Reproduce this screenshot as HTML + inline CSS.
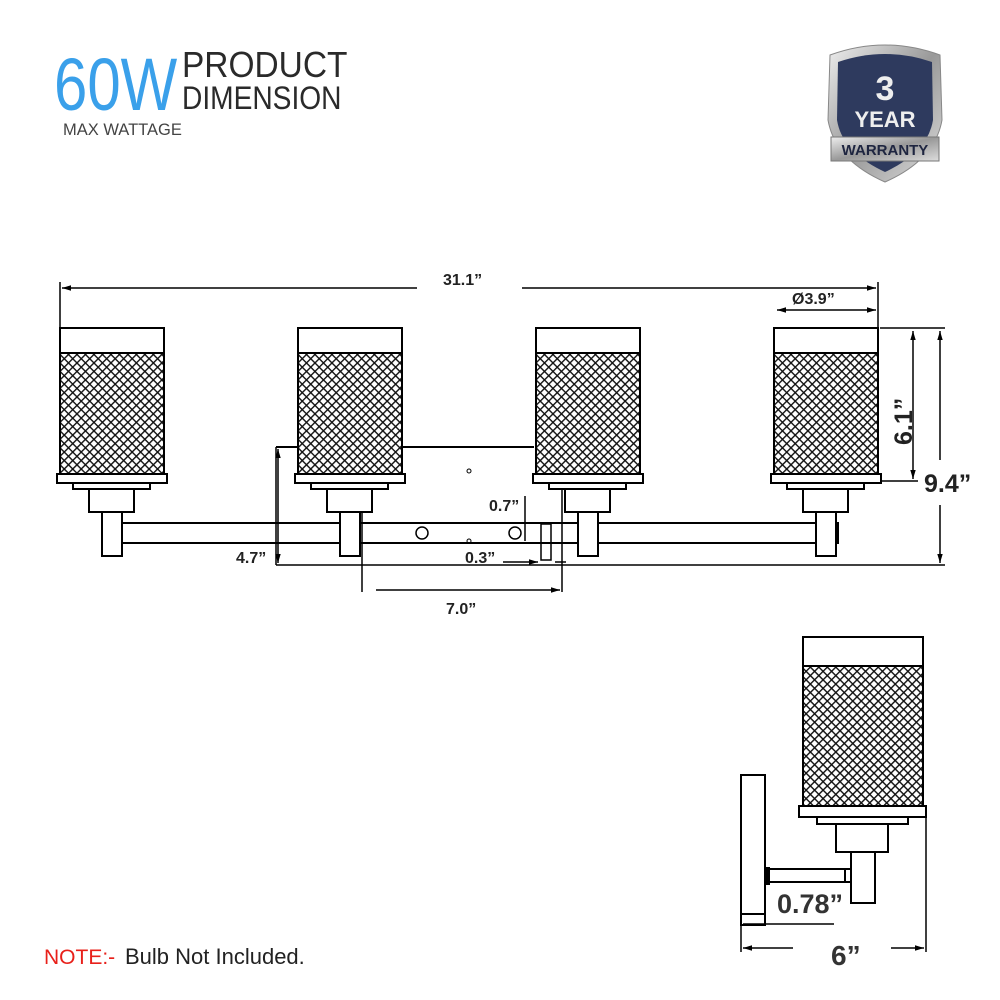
<!DOCTYPE html>
<html><head><meta charset="utf-8"><style>
body{margin:0;background:#fff}
svg{display:block}
text{font-family:"Liberation Sans",sans-serif}
</style></head><body>
<svg width="1000" height="1000" viewBox="0 0 1000 1000" xmlns="http://www.w3.org/2000/svg">
<defs>
<pattern id="mesh" width="6" height="6" patternUnits="userSpaceOnUse" patternTransform="rotate(45)">
<rect width="6" height="6" fill="#fff"/>
<line x1="0" y1="0" x2="6" y2="0" stroke="#111" stroke-width="2.8"/>
<line x1="0" y1="0" x2="0" y2="6" stroke="#111" stroke-width="2.8"/>
</pattern>
<linearGradient id="steel" x1="0" y1="0" x2="1" y2="1">
<stop offset="0" stop-color="#eee"/><stop offset="0.5" stop-color="#999"/><stop offset="1" stop-color="#ddd"/>
</linearGradient>
<marker id="ar" viewBox="0 0 10 10" refX="10" refY="5" markerWidth="6" markerHeight="6" orient="auto-start-reverse"><path d="M0,2 L10,5 L0,8z" fill="#000"/></marker>
<g id="lamp" fill="#fff" stroke="#000" stroke-width="2">
<rect x="0" y="0" width="104" height="146"/>
<rect x="1" y="25" width="102" height="121" fill="url(#mesh)" stroke="none"/>
<line x1="0" y1="25" x2="104" y2="25"/>
<rect x="-3" y="146" width="110" height="9"/>
<rect x="13" y="155" width="77" height="6"/>
<rect x="29" y="161" width="45" height="23"/>
<rect x="42" y="184" width="20" height="44"/>
</g>
</defs>

<text x="54" y="110" font-size="74" fill="#3aa0ea" transform="translate(54 0) scale(0.81 1) translate(-54 0)">60W</text>
<text x="182" y="77" font-size="36" fill="#2a2a2a" transform="translate(182 0) scale(0.93 1) translate(-182 0)">PRODUCT</text>
<text x="182" y="109" font-size="32" fill="#2a2a2a" transform="translate(182 0) scale(0.88 1) translate(-182 0)">DIMENSION</text>
<text x="63" y="135" font-size="16.5" fill="#444">MAX WATTAGE</text>

<path d="M830,55 Q885,35 940,55 L942,120 Q935,160 885,182 Q835,160 828,120 Z" fill="url(#steel)" stroke="#888"/>
<path d="M838,62 Q885,46 932,62 L933,120 Q928,152 885,172 Q842,152 837,120 Z" fill="#2e3a5e"/>
<text x="885" y="100" font-size="34" font-weight="bold" fill="#eee" text-anchor="middle">3</text>
<text x="885" y="127" font-size="22" font-weight="bold" fill="#eee" text-anchor="middle" font-family="Liberation Serif">YEAR</text>
<rect x="831" y="137" width="108" height="24" fill="url(#steel)" stroke="#777"/>
<text x="885" y="155" font-size="15" font-weight="bold" fill="#1e2540" text-anchor="middle">WARRANTY</text>

<g fill="none" stroke="#000" stroke-width="2">
<rect x="122" y="523" width="716" height="20" fill="#fff"/>
<line x1="276" y1="447" x2="534" y2="447"/>
<line x1="362" y1="489" x2="362" y2="592" stroke-width="1.5"/>
<line x1="562" y1="489" x2="562" y2="592" stroke-width="1.5"/>
<rect x="541" y="524" width="10" height="36" stroke-width="1.5"/>
<circle cx="422" cy="533" r="6" stroke-width="1.5"/>
<circle cx="515" cy="533" r="6" stroke-width="1.5"/>
<circle cx="469" cy="471" r="2" stroke-width="1"/>
<circle cx="469" cy="541" r="2" stroke-width="1"/>
</g>
<use href="#lamp" x="60" y="328"/>
<use href="#lamp" x="298" y="328"/>
<use href="#lamp" x="536" y="328"/>
<use href="#lamp" x="774" y="328"/>

<g stroke="#000" stroke-width="1.5" fill="none">
<line x1="60" y1="282" x2="60" y2="328"/>
<line x1="878" y1="282" x2="878" y2="328"/>
<line x1="62" y1="288" x2="417" y2="288" marker-start="url(#ar)"/>
<line x1="522" y1="288" x2="876" y2="288" marker-end="url(#ar)"/>
<line x1="777" y1="310" x2="876" y2="310" marker-start="url(#ar)" marker-end="url(#ar)"/>
<line x1="880" y1="328" x2="945" y2="328"/>
<line x1="880" y1="481" x2="918" y2="481"/>
<line x1="913" y1="331" x2="913" y2="479" marker-start="url(#ar)" marker-end="url(#ar)"/>
<line x1="940" y1="331" x2="940" y2="460" marker-start="url(#ar)"/>
<line x1="940" y1="505" x2="940" y2="563" marker-end="url(#ar)"/>
<line x1="276" y1="447" x2="276" y2="565"/>
<line x1="278" y1="449" x2="278" y2="563" marker-start="url(#ar)" marker-end="url(#ar)"/>
<line x1="276" y1="565" x2="945" y2="565"/>
<line x1="376" y1="590" x2="560" y2="590" marker-end="url(#ar)"/>
<line x1="525" y1="496" x2="525" y2="541"/>
<line x1="503" y1="562" x2="538" y2="562" marker-end="url(#ar)"/>
<line x1="555" y1="562" x2="566" y2="562"/>
</g>
<g font-weight="bold" font-size="16" fill="#222">
<text x="443" y="285">31.1”</text>
<text x="792" y="304">Ø3.9”</text>
<text x="236" y="563">4.7”</text>
<text x="489" y="511">0.7”</text>
<text x="465" y="563">0.3”</text>
<text x="446" y="614">7.0”</text>
</g>
<text x="0" y="0" font-weight="bold" font-size="25" fill="#222" transform="translate(912 445) rotate(-90)">6.1”</text>
<text x="924" y="492" font-weight="bold" font-size="25" fill="#222">9.4”</text>

<g fill="#fff" stroke="#000" stroke-width="2">
<rect x="741" y="775" width="24" height="150"/>
<line x1="741" y1="914" x2="765" y2="914"/>
<rect x="767" y="869" width="78" height="13"/>
<rect x="845" y="869" width="6" height="13"/>
<rect x="766" y="868" width="3" height="16" fill="#000"/>
<rect x="803" y="637" width="120" height="169"/>
<rect x="804" y="666" width="118" height="140" fill="url(#mesh)" stroke="none"/>
<line x1="803" y1="666" x2="923" y2="666"/>
<rect x="799" y="806" width="127" height="11"/>
<rect x="817" y="817" width="91" height="7"/>
<rect x="836" y="824" width="52" height="28"/>
<rect x="851" y="852" width="24" height="51"/>
</g>
<g stroke="#000" stroke-width="1.5" fill="none">
<line x1="741" y1="925" x2="741" y2="952"/>
<line x1="926" y1="817" x2="926" y2="952"/>
<line x1="743" y1="924" x2="834" y2="924"/>
<line x1="743" y1="948" x2="793" y2="948" marker-start="url(#ar)"/>
<line x1="891" y1="948" x2="924" y2="948" marker-end="url(#ar)"/>
</g>
<text x="777" y="913" font-weight="bold" font-size="27" fill="#333">0.78”</text>
<text x="831" y="965" font-weight="bold" font-size="28" fill="#333">6”</text>

<text x="44" y="964" font-size="21" fill="#e8201a">NOTE:-</text>
<text x="125" y="964" font-size="22" fill="#222">Bulb Not Included.</text>
</svg>
</body></html>
